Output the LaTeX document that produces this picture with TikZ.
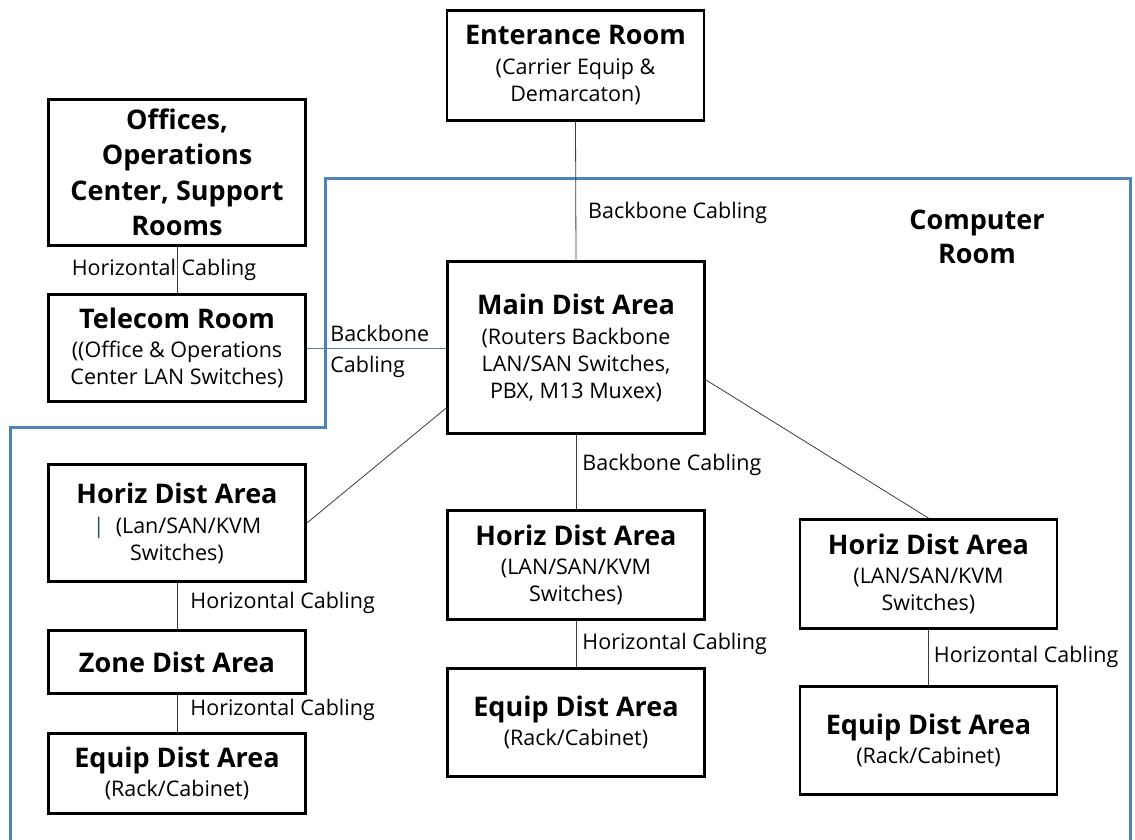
\documentclass[tikz,border=0pt]{standalone}
\usepackage{fontspec}
\setmainfont{Open Sans}
\definecolor{roomblue}{RGB}{79,129,189}
\definecolor{cablegray}{RGB}{60,60,60}
\definecolor{linkblue}{RGB}{95,125,165}
\definecolor{cursorgreen}{RGB}{40,90,60}
\newcommand{\boxtitle}{\fontsize{27}{34}\selectfont\bfseries}
\newcommand{\boxsub}{\fontsize{21.5}{27}\selectfont}

\begin{document}
\begin{tikzpicture}[x=1pt,y=-1pt, every node/.style={font=\boxsub},
    area/.style={draw, line width=2.8pt, minimum width=257pt, inner sep=0pt, align=center},
    cable/.style={draw=cablegray, line width=0.8pt},
    lbl/.style={inner sep=0pt, anchor=west}]
  \useasboundingbox (0,0) rectangle (1135,839);
  % computer room outline
  \draw[roomblue, line width=3pt] (10,845) -- (10,427) -- (325,427) -- (325,178) -- (1130,178) -- (1130,845);
  \node[font=\boxtitle, align=center] (roomlabel) at (977,237) {Computer\\Room};

  \node[area, minimum height=110pt] (entrance) at (575.5,65.5) {{\boxtitle Enterance Room}\\[3pt](Carrier Equip \&\\Demarcaton)};
  \node[area, minimum height=146pt, font=\fontsize{27}{35.5}\selectfont\bfseries] (offices) at (177,172.5) {Offices,\\Operations\\Center, Support\\Rooms};
  \node[area, minimum height=107pt] (telecom) at (177,348) {{\boxtitle Telecom Room}\\[2pt]((Office \& Operations\\Center LAN Switches)};
  \node[area, minimum height=172pt] (maindist) at (576,347.5) {{\boxtitle Main Dist Area}\\[3pt](Routers Backbone\\LAN/SAN Switches,\\PBX, M13 Muxex)};
  \node[area, minimum height=117pt] (horizL) at (177,523) {{\boxtitle Horiz Dist Area}\\[3pt]{\color{cursorgreen}|}\ \ (Lan/SAN/KVM\\Switches)};
  \node[area, minimum height=63pt] (zone) at (177,662) {{\boxtitle Zone Dist Area}};
  \node[area, minimum height=80pt] (equipL) at (177,773.5) {{\boxtitle Equip Dist Area}\\[2pt](Rack/Cabinet)};
  \node[area, minimum height=109pt] (horizM) at (576,565) {{\boxtitle Horiz Dist Area}\\[2pt](LAN/SAN/KVM\\Switches)};
  \node[area, minimum height=108pt] (equipM) at (576,722.5) {{\boxtitle Equip Dist Area}\\[2pt](Rack/Cabinet)};
  \node[area, minimum height=109pt] (horizR) at (928.5,574) {{\boxtitle Horiz Dist Area}\\[2pt](LAN/SAN/KVM\\Switches)};
  \node[area, minimum height=108pt] (equipR) at (928.5,740.5) {{\boxtitle Equip Dist Area}\\[2pt](Rack/Cabinet)};

  % cabling
  \draw[cable] (entrance.south) -- node[lbl, pos=0.66, xshift=12pt] {Backbone Cabling} (maindist.north);
  \draw[cable] (offices.south) -- node[inner sep=0pt, xshift=-13pt] {Horizontal Cabling} (telecom.north);
  \draw[linkblue, line width=0.9pt] (telecom.east) -- node[lbl, at start, xshift=23pt, yshift=-3pt, align=left, text=black, font=\fontsize{21.5}{31}\selectfont] {Backbone\\Cabling} (telecom.east -| maindist.west);
  \draw[cable] (maindist.205) -- (horizL.east);
  \draw[cable] (maindist.346) -- (horizR.north);
  \draw[cable] (maindist.south) -- node[lbl, pos=0.4, xshift=6pt] {Backbone Cabling} (horizM.north);
  \draw[cable] (horizM.south) -- node[lbl, pos=0.5, xshift=6pt] {Horizontal Cabling} (equipM.north);
  \draw[cable] (horizR.south) -- node[lbl, pos=0.49, xshift=5pt] {Horizontal Cabling} (equipR.north);
  \draw[cable] (horizL.south) -- node[lbl, pos=0.43, xshift=13pt] {Horizontal Cabling} (zone.north);
  \draw[cable] (zone.south) -- node[lbl, pos=0.4, xshift=13pt] {Horizontal Cabling} (equipL.north);
\end{tikzpicture}
\end{document}
